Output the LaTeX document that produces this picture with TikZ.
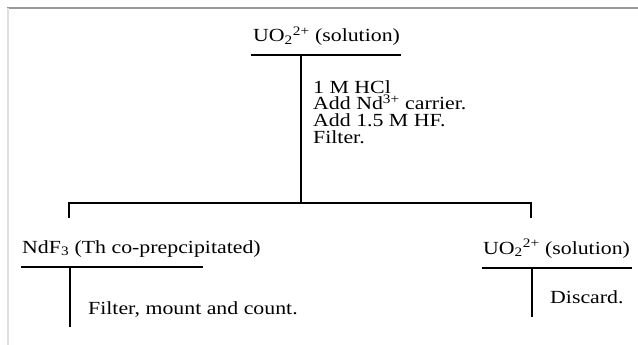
\documentclass[tikz,border=0pt]{standalone}
\usepackage{fontspec}
\setmainfont[FakeStretch=1.18]{Liberation Serif}
\usetikzlibrary{positioning}

\tikzset{
  lbl/.style={font=\fontsize{18.5}{16.8}\selectfont, inner sep=0pt, anchor=base west},
  bar/.style={line width=1.6pt, black},
}

\begin{document}
\begin{tikzpicture}[x=1pt, y=-1pt]
    \useasboundingbox (0,0) rectangle (638,345);

    % === Marco ===
    \draw[black!40, line width=1.2pt] (7,8) -- (638,8);
    \draw[black!12, line width=1.2pt] (8,8) -- (8,345);

    % === Solucion inicial ===
    \node[lbl] (ini) at (253,42) {UO\textsubscript{2}\textsuperscript{2+} (solution)};
    \coordinate (iniL) at (251,55);
    \coordinate (iniR) at (401,55);
    \coordinate (iniB) at (301,55);
    \draw[bar] (iniL) -- (iniR);

    % Pasos
    \node[lbl, align=left, anchor=north west] (pasos) at (313,80)
        {1 M HCl\\Add Nd\textsuperscript{3+} carrier.\\Add 1.5 M HF.\\Filter.};

    % === Ramificacion ===
    \coordinate (split) at (301,203);
    \coordinate (splitL) at (69,203);
    \coordinate (splitR) at (531,203);
    \coordinate (bajaL) at (69,218);
    \coordinate (bajaR) at (531,218);
    \draw[bar] (iniB) -- (split);
    \draw[bar] (bajaL) -- (splitL) -- (splitR) -- (bajaR);

    % === Precipitado (Izquierda) ===
    \node[lbl] (ppt) at (22,253) {NdF\textsubscript{3} (Th co-prepcipitated)};
    \coordinate (pptL) at (21,267);
    \coordinate (pptR) at (203,267);
    \coordinate (pptB) at (70,267);
    \coordinate (pptE) at (70,327);
    \draw[bar] (pptL) -- (pptR);
    \draw[bar] (pptB) -- (pptE);
    \node[lbl] (contar) at (88,314) {Filter, mount and count.};

    % === Solucion (Derecha) ===
    \node[lbl] (sol) at (483,254) {UO\textsubscript{2}\textsuperscript{2+} (solution)};
    \coordinate (solL) at (482,268);
    \coordinate (solR) at (632,268);
    \coordinate (solB) at (532,268);
    \coordinate (solE) at (532,317);
    \draw[bar] (solL) -- (solR);
    \draw[bar] (solB) -- (solE);
    \node[lbl] (tirar) at (550,303) {Discard.};

\end{tikzpicture}
\end{document}
